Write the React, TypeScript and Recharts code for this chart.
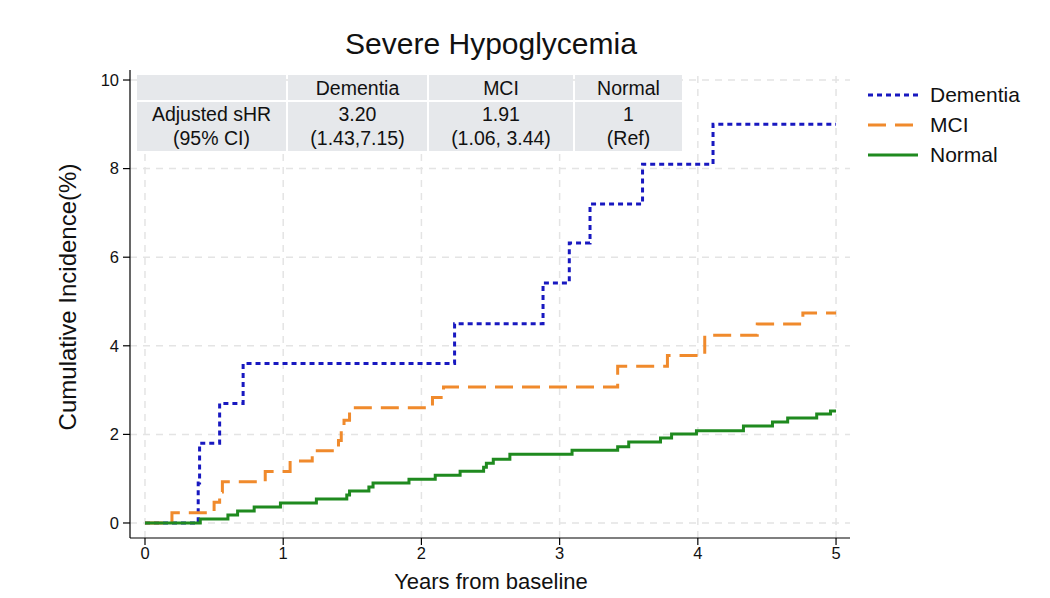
import React from "react";
import { LineChart, Line, XAxis, YAxis, ReferenceLine } from "recharts";

const dementiaT = [0, 0.385, 0.395, 0.54, 0.71, 2.24, 2.88, 3.07, 3.22, 3.6, 4.11, 5];
const dementiaY = [0, 0.9, 1.8, 2.7, 3.6, 4.5, 5.42, 6.32, 7.2, 8.1, 9.0, 9.0];

const mciT = [0, 0.195, 0.5, 0.54, 0.56, 0.87, 1.05, 1.21, 1.4, 1.42, 1.44, 1.48, 2.08, 2.16, 3.42, 3.78, 4.05, 4.43, 4.76, 5];
const mciY = [0, 0.23, 0.47, 0.7, 0.93, 1.16, 1.4, 1.63, 1.86, 2.09, 2.32, 2.6, 2.83, 3.07, 3.54, 3.78, 4.24, 4.49, 4.74, 4.74];

const normalT = [0, 0.4, 0.6, 0.67, 0.79, 0.98, 1.24, 1.46, 1.48, 1.62, 1.65, 1.91, 2.1, 2.28, 2.45, 2.47, 2.52, 2.64, 3.09, 3.42, 3.5, 3.73, 3.81, 3.99, 4.33, 4.54, 4.65, 4.86, 4.96, 5];
const normalY = [0, 0.09, 0.18, 0.27, 0.36, 0.45, 0.54, 0.63, 0.72, 0.81, 0.9, 0.99, 1.08, 1.17, 1.26, 1.35, 1.44, 1.55, 1.64, 1.72, 1.83, 1.92, 2.01, 2.08, 2.19, 2.28, 2.37, 2.46, 2.53, 2.53];

const xTicks = [0, 1, 2, 3, 4, 5];
const yTicks = [0, 2, 4, 6, 8, 10];
const xDomain = [-0.1085, 5.101];
const yDomain = [-0.339, 10.226];

const tableHeader = ["", "Dementia", "MCI", "Normal"];
const tableRow1 = ["Adjusted sHR", "3.20", "1.91", "1"];
const tableRow2 = ["(95% CI)", "(1.43,7.15)", "(1.06, 3.44)", "(Ref)"];

const seriesNames = ["Dementia", "MCI", "Normal"];
const colors = ["#1818c0", "#f08a2c", "#1f8a1f"];
const dashes = ["5 4", "18 9", undefined];

const build = (t: number[], y: number[]) => t.map((v, i) => ({ t: v, y: y[i] }));
const seriesData = [build(dementiaT, dementiaY), build(mciT, mciY), build(normalT, normalY)];

const FONT = "'Liberation Sans', Arial, Helvetica, sans-serif";

const colLeft = [137, 288, 429, 575];
const colWidth = [149, 139, 144, 107];

const GRID = "#e4e4e4";

export default function App() {
  return (
    <div style={{ position: "absolute", left: 0, top: 0, width: 1050, height: 598, background: "#fff", fontFamily: FONT }}>
      <LineChart width={1050} height={598} margin={{ top: 70, right: 200, bottom: 30, left: 80 }}>
        <XAxis
          type="number"
          dataKey="t"
          domain={xDomain}
          ticks={xTicks}
          allowDataOverflow
          height={30}
          tickSize={7}
          axisLine={{ stroke: "#000", strokeWidth: 1.2 }}
          tickLine={{ stroke: "#000", strokeWidth: 1.2 }}
          tick={{ fill: "#111", fontSize: 16.5, fontFamily: FONT }}
        />
        <YAxis
          type="number"
          dataKey="y"
          domain={yDomain}
          ticks={yTicks}
          allowDataOverflow
          width={50}
          tickSize={7}
          axisLine={{ stroke: "#000", strokeWidth: 1.2 }}
          tickLine={{ stroke: "#000", strokeWidth: 1.2 }}
          tick={{ fill: "#111", fontSize: 16.5, fontFamily: FONT, dx: -2 }}
        />
        {yTicks.map((t) => (
          <ReferenceLine key={"gy" + t} y={t} stroke={GRID} strokeDasharray="7 6" strokeWidth={1.5} />
        ))}
        {xTicks.map((t) => (
          <ReferenceLine key={"gx" + t} x={t} stroke={GRID} strokeDasharray="7 6" strokeWidth={1.5} />
        ))}
        {seriesData.map((d, i) => (
          <Line
            key={seriesNames[i]}
            data={d}
            dataKey="y"
            name={seriesNames[i]}
            type="stepAfter"
            stroke={colors[i]}
            strokeWidth={3}
            strokeDasharray={dashes[i]}
            dot={false}
            activeDot={false}
            isAnimationActive={false}
          />
        ))}
      </LineChart>

      <div style={{ position: "absolute", left: 0, width: 982, top: 27, textAlign: "center", fontSize: 30, color: "#111" }}>
        Severe Hypoglycemia
      </div>
      <div style={{ position: "absolute", left: 0, width: 982, top: 569, textAlign: "center", fontSize: 22, color: "#111" }}>
        Years from baseline
      </div>
      <div
        style={{
          position: "absolute",
          left: 68,
          top: 297,
          transform: "translate(-50%, -50%) rotate(-90deg)",
          whiteSpace: "nowrap",
          fontSize: 24,
          color: "#111",
        }}
      >
        Cumulative Incidence(%)
      </div>

      {tableHeader.map((h, i) => (
        <div
          key={"h" + i}
          style={{
            position: "absolute",
            left: colLeft[i],
            top: 75,
            width: colWidth[i],
            height: 25,
            background: "#e6e8eb",
            textAlign: "center",
            lineHeight: "27px",
            fontSize: 19.5,
            color: "#111",
          }}
        >
          {h}
        </div>
      ))}
      {tableRow1.map((v, i) => (
        <div
          key={"r" + i}
          style={{
            position: "absolute",
            left: colLeft[i],
            top: 102,
            width: colWidth[i],
            height: 49,
            background: "#e6e8eb",
            textAlign: "center",
            fontSize: 19.5,
            lineHeight: "24px",
            color: "#111",
          }}
        >
          <div>{v}</div>
          <div>{tableRow2[i]}</div>
        </div>
      ))}

      <div style={{ position: "absolute", left: 866, top: 80 }}>
        {seriesNames.map((n, i) => (
          <div key={n} style={{ display: "flex", alignItems: "center", height: 30 }}>
            <svg width={54} height={10}>
              <line x1={2} y1={5} x2={52} y2={5} stroke={colors[i]} strokeWidth={3} strokeDasharray={dashes[i]} />
            </svg>
            <span style={{ marginLeft: 10, fontSize: 21, color: "#111" }}>{n}</span>
          </div>
        ))}
      </div>
    </div>
  );
}
